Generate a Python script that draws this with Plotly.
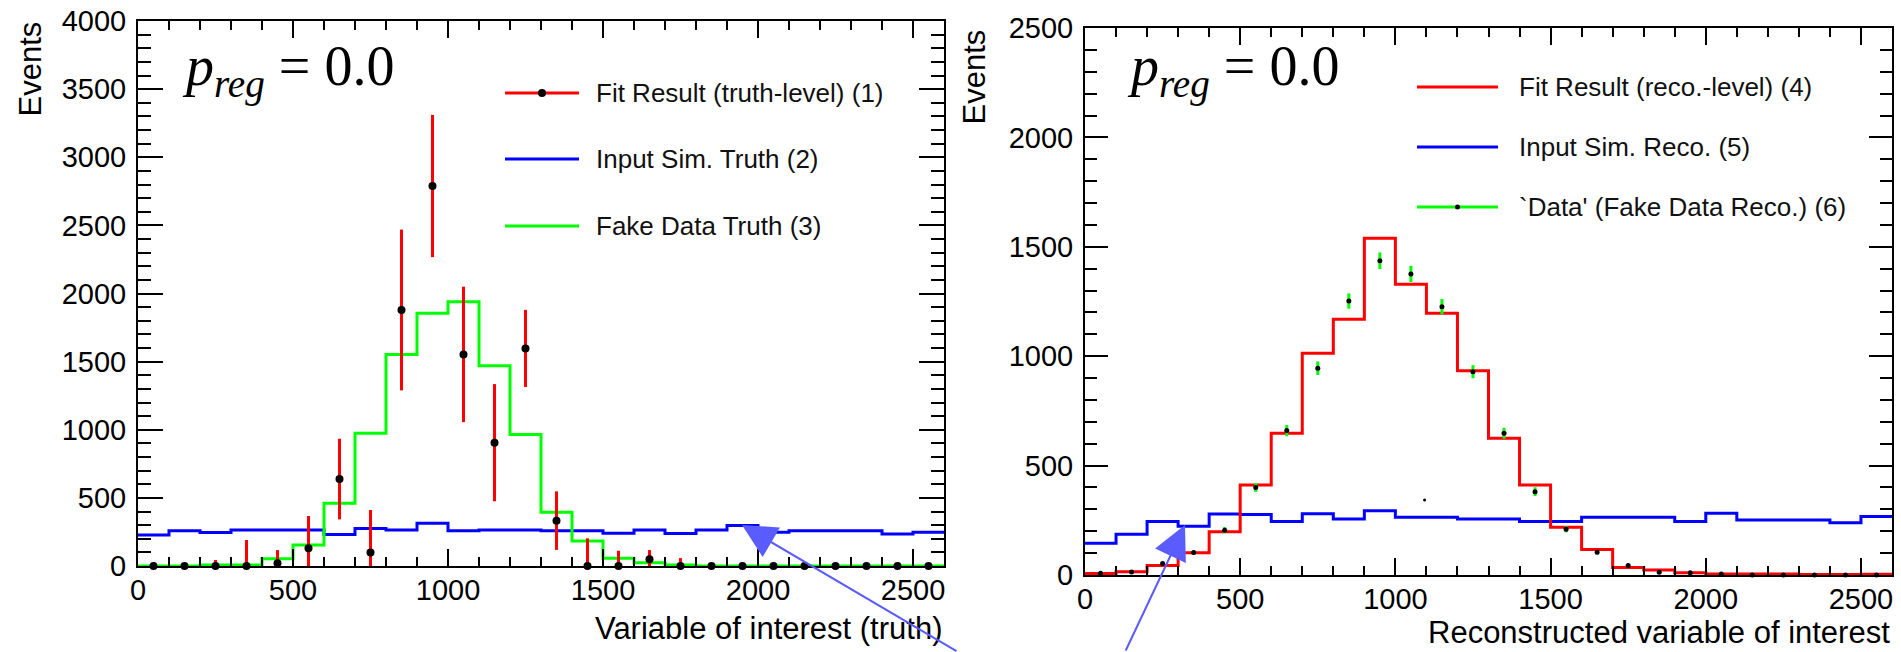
import plotly.graph_objects as go

# ---------------------------------------------------------------------------
# Histogram binning (shared by both panels)
# ---------------------------------------------------------------------------
bin_edges = list(range(0, 2601, 100))
bin_centers = [e + 50 for e in bin_edges[:-1]]

# ---------------------------------------------------------------------------
# Left panel: truth level
# ---------------------------------------------------------------------------
fit_truth = [0, 0, 0, 0, 20, 130, 638, 100, 1879, 2789, 1553, 905, 1597,
             333, 0, 0, 49, 0, 0, 0, 0, 0, 0, 0, 0, 0]
fit_truth_err = [0, 0, 44, 191, 97, 237, 296, 311, 590, 522, 497, 430, 283,
                 215, 203, 112, 68, 58, 0, 20, 0, 0, 0, 0, 0, 0]
sim_truth = [227, 259, 245, 264, 264, 264, 232, 276, 264, 313, 259, 264, 264,
             259, 259, 240, 264, 238, 264, 298, 247, 259, 259, 259, 235, 247]
fake_truth = [0, 0, 8, 8, 54, 154, 460, 974, 1553, 1855, 1940, 1470, 966,
              394, 183, 56, 24, 7, 0, 0, 0, 0, 0, 0, 0, 0]

# ---------------------------------------------------------------------------
# Right panel: reconstruction level
# ---------------------------------------------------------------------------
fit_reco = [7, 15, 43, 102, 198, 411, 648, 1013, 1169, 1539, 1329, 1196, 934,
            625, 411, 218, 117, 34, 23, 10, 5, 5, 5, 2, 2, 3]
sim_reco = [145, 186, 245, 223, 279, 276, 244, 280, 256, 294, 264, 264, 256,
            256, 244, 244, 264, 264, 264, 244, 282, 251, 251, 251, 239, 267]
data_reco = [8, 14, 52, 103, 205, 400, 660, 945, 1252, 1436, 1376, 1226, 929,
             648, 381, 209, 104, 43, 12, 10, 5, 0, 0, 0, 0, 0]
data_reco_err = [3, 4, 7, 10, 14, 20, 26, 31, 35, 38, 37, 35, 30, 25, 20, 14,
                 10, 7, 4, 3, 2, 0, 0, 0, 0, 0]
# lone marker left over inside the reco panel
extra_reco_x = [1094]
extra_reco_y = [343]

x_ticks = [0, 500, 1000, 1500, 2000, 2500]
left_y_ticks = [0, 500, 1000, 1500, 2000, 2500, 3000, 3500, 4000]
right_y_ticks = [0, 500, 1000, 1500, 2000, 2500]

legend_left = ["Fit Result (truth-level) (1)", "Input Sim. Truth (2)",
               "Fake Data Truth (3)"]
legend_right = ["Fit Result (reco.-level) (4)", "Input Sim. Reco. (5)",
                "`Data' (Fake Data Reco.) (6)"]

# ---------------------------------------------------------------------------
W, H = 1901, 652
SANS = "Liberation Sans, Arial, Helvetica, sans-serif"
SERIF = "Liberation Serif, Times New Roman, serif"
RED, BLUE, GREEN = "#ff0000", "#0000ff", "#00ff00"
ARROW = "#5a5cff"


def fx(px):
    return px / W


def fy(py):
    return 1 - py / H


def step(values):
    """Outline of a histogram: one horizontal segment per bin."""
    return dict(x=bin_edges, y=list(values) + [values[-1]],
                mode="lines", line_shape="hv", showlegend=False,
                hoverinfo="skip")


fig = go.Figure()

# left panel
fig.add_trace(go.Scatter(**step(sim_truth), line=dict(color=BLUE, width=3),
                         xaxis="x", yaxis="y"))
fig.add_trace(go.Scatter(**step(fake_truth), line=dict(color=GREEN, width=3),
                         xaxis="x", yaxis="y"))
fig.add_trace(go.Scatter(
    x=bin_centers, y=fit_truth, mode="markers", xaxis="x", yaxis="y",
    marker=dict(color="black", size=8, symbol="circle"),
    error_y=dict(type="data", array=fit_truth_err,
                 arrayminus=[min(e, v) for e, v in zip(fit_truth_err, fit_truth)],
                 color=RED, thickness=3, width=0),
    cliponaxis=False, showlegend=False))

# right panel
fig.add_trace(go.Scatter(**step(sim_reco), line=dict(color=BLUE, width=3),
                         xaxis="x2", yaxis="y2"))
fig.add_trace(go.Scatter(**step(fit_reco), line=dict(color=RED, width=3),
                         xaxis="x2", yaxis="y2"))
fig.add_trace(go.Scatter(
    x=bin_centers, y=data_reco, mode="markers", xaxis="x2", yaxis="y2",
    marker=dict(color="black", size=5, symbol="circle"),
    error_y=dict(type="data", array=data_reco_err,
                 arrayminus=[min(e, v) for e, v in zip(data_reco_err, data_reco)],
                 color=GREEN, thickness=3, width=0),
    cliponaxis=False, showlegend=False))
fig.add_trace(go.Scatter(
    x=extra_reco_x, y=extra_reco_y, mode="markers", xaxis="x2", yaxis="y2",
    marker=dict(color="black", size=3), showlegend=False))


def frame_axis(ticklen, minorlen, tickvals, rng, domain, anchor, standoff):
    return dict(
        range=rng, domain=domain, anchor=anchor, automargin=False,
        showline=True, linecolor="black", linewidth=2, mirror="allticks",
        ticks="inside", ticklen=ticklen, tickwidth=2, tickcolor="black",
        tickmode="array", tickvals=tickvals, ticklabelstandoff=standoff,
        showgrid=False, zeroline=False,
        tickfont=dict(family=SANS, size=29, color="black"),
        minor=dict(ticks="inside", ticklen=minorlen, tickwidth=2,
                   tickcolor="black", dtick=100, showgrid=False),
    )


left_x = [fx(138), fx(944)]
left_y = [fy(566), fy(21)]
right_x = [fx(1085), fx(1892)]
right_y = [fy(575), fy(28)]

fig.update_layout(
    width=W, height=H, margin=dict(l=0, r=0, t=0, b=0, autoexpand=False),
    paper_bgcolor="white", plot_bgcolor="white", showlegend=False,
    xaxis=frame_axis(17, 9, x_ticks, [0, 2600], left_x, "y", -3),
    yaxis=frame_axis(25, 13, left_y_ticks, [0, 4000], left_y, "x", 4),
    xaxis2=frame_axis(17, 9, x_ticks, [0, 2600], right_x, "y2", -3),
    yaxis2=frame_axis(23, 12, right_y_ticks, [0, 2500], right_y, "x2", 4),
)

annotations = []
shapes = []

# axis titles (right-aligned / top-aligned, ROOT style)
annotations += [
    dict(text="Variable of interest (truth)", x=fx(944), y=fy(628),
         xanchor="right", yanchor="middle"),
    dict(text="Reconstructed variable of interest", x=fx(1892), y=0,
         xanchor="right", yanchor="bottom"),
    dict(text="Events", x=fx(30), y=fy(20), textangle=-90,
         xanchor="center", yanchor="top"),
    dict(text="Events", x=fx(974), y=fy(27), textangle=-90,
         xanchor="center", yanchor="top"),
]
for a in annotations:
    a.update(xref="paper", yref="paper", showarrow=False,
             font=dict(family=SANS, size=31, color="black"))

# regularisation parameter labels
for x0 in (180, 1125):
    annotations.append(dict(
        text="<i>p</i><sub><i>reg</i></sub> = 0.0",
        x=fx(x0), y=fy(70), xref="paper", yref="paper",
        xanchor="left", yanchor="middle", showarrow=False,
        font=dict(family=SERIF, size=56, color="black")))

# legends
def legend(entries, colors, line_x, text_x, rows, dot_row, font_size):
    for label, color, row in zip(entries, colors, rows):
        shapes.append(dict(type="line", xref="paper", yref="paper",
                           x0=fx(line_x[0]), x1=fx(line_x[1]),
                           y0=fy(row), y1=fy(row),
                           line=dict(color=color, width=3)))
        annotations.append(dict(text=label, x=fx(text_x), y=fy(row),
                                xref="paper", yref="paper", xanchor="left",
                                yanchor="middle", showarrow=False,
                                font=dict(family=SANS, size=font_size,
                                          color="#111111")))
    mid = (line_x[0] + line_x[1]) / 2
    r = dot_row[1]
    shapes.append(dict(type="circle", xref="paper", yref="paper",
                       xsizemode="pixel", ysizemode="pixel",
                       xanchor=fx(mid), yanchor=fy(dot_row[0]),
                       x0=-r, x1=r, y0=-r, y1=r,
                       fillcolor="black", line=dict(width=0)))


legend(legend_left, [RED, BLUE, GREEN], (505, 579), 594, (93, 159, 226),
       (93, 4), 26)
legend(legend_right, [RED, BLUE, GREEN], (1417, 1498), 1517, (87, 147, 207),
       (207, 2.5), 26)

# pointer arrows
for tip, tail in (((742, 525), (958, 654)), ((1185, 525), (1125, 654))):
    annotations.append(dict(
        x=fx(tip[0]), y=fy(tip[1]), xref="paper", yref="paper",
        ax=tail[0] - tip[0], ay=tail[1] - tip[1], text="",
        showarrow=True, arrowhead=2, arrowsize=3.4, arrowwidth=2,
        arrowcolor=ARROW, standoff=0))

fig.update_layout(annotations=annotations, shapes=shapes)

fig.write_html("out.html")
